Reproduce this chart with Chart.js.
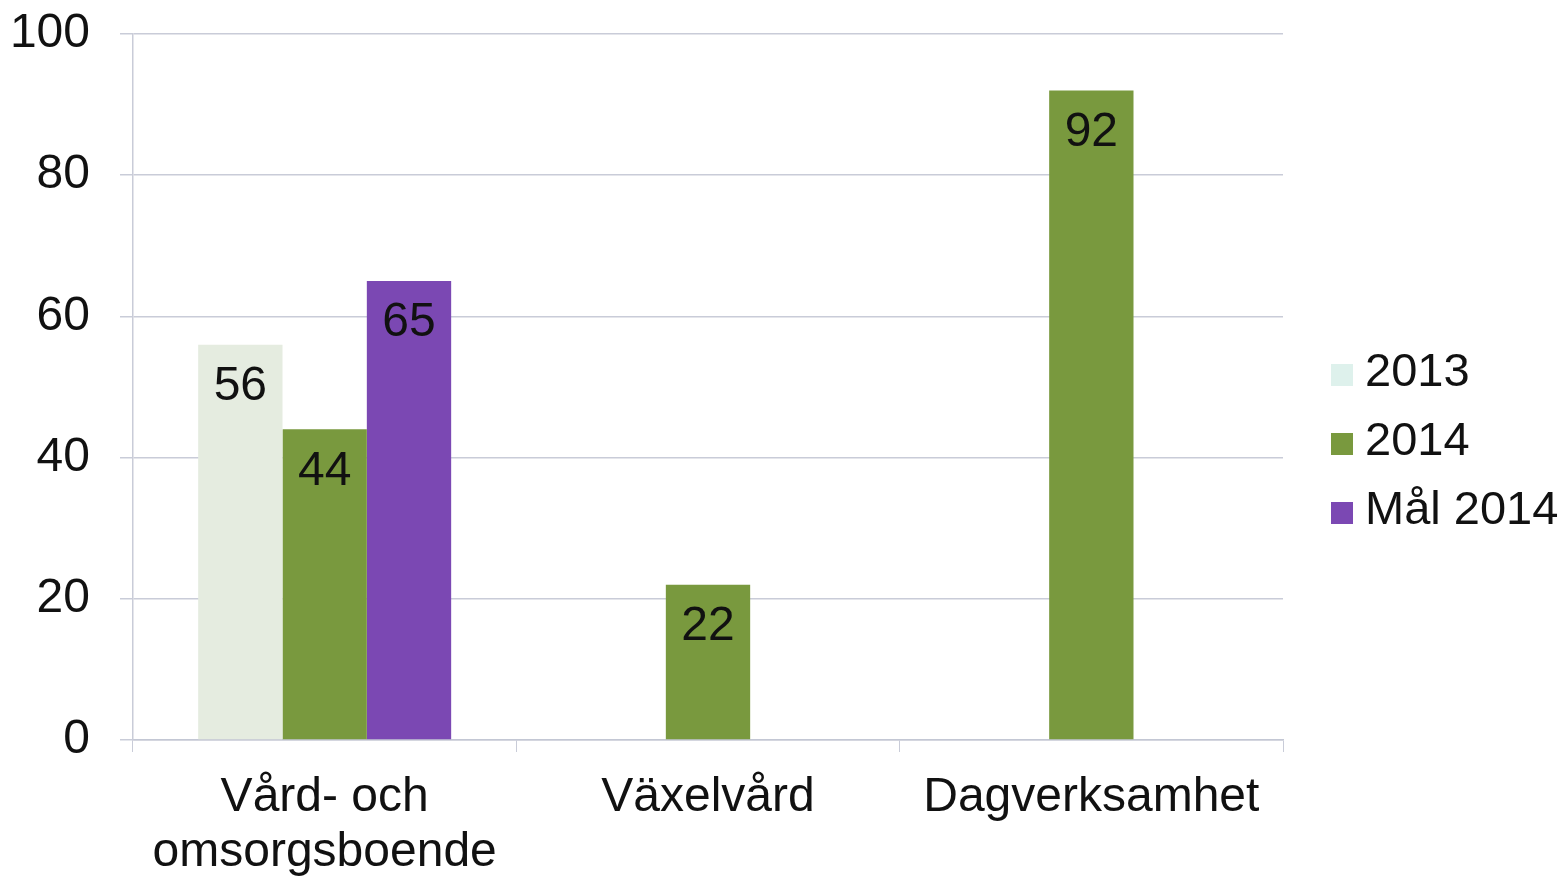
<!DOCTYPE html>
<html lang="sv">
<head>
<meta charset="utf-8">
<title>Andel per verksamhet</title>
<script src="https://cdn.jsdelivr.net/npm/chart.js@4.4.1/dist/chart.umd.min.js"></script>
<style>
  html, body { margin: 0; padding: 0; background: #ffffff; }
  #wrap { width: 1562px; height: 877px; }
</style>
</head>
<body>
<div id="wrap"><canvas id="chart" width="1562" height="877"></canvas></div>
<script>
// Categories (multi-line label for the first one)
const categories = [["Vård- och", "omsorgsboende"], "Växelvård", "Dagverksamhet"];

// Series values; null where a series has no bar
const values2013 = [56, null, null];
const values2014 = [44, 22, 92];
const valuesMal2014 = [65, null, null];

// Y axis tick labels
const yTicks = [0, 20, 40, 60, 80, 100];

const seriesLabels = ["2013", "2014", "Mål 2014"];
const seriesColors = ["#e5ece0", "#79993e", "#7b48b3"];
const legendSwatchColors = ["#def1ec", "#79993e", "#7b48b3"];

const FONT = '"Liberation Sans", Arial, sans-serif';
const FONT_SIZE = 48;

// Value labels drawn inside the top of each bar
const barValueLabels = {
  id: 'barValueLabels',
  afterDatasetsDraw(chart) {
    const ctx = chart.ctx;
    ctx.save();
    ctx.font = FONT_SIZE + 'px ' + FONT;
    ctx.fillStyle = '#111111';
    ctx.textAlign = 'center';
    ctx.textBaseline = 'middle';
    chart.data.datasets.forEach((ds, di) => {
      const meta = chart.getDatasetMeta(di);
      meta.data.forEach((el, i) => {
        const v = ds.data[i];
        if (v === null || v === undefined) return;
        ctx.fillText(String(v), el.x, el.y + 42);
      });
    });
    ctx.restore();
  }
};

// Legend drawn at the right, one row per series
const sideLegend = {
  id: 'sideLegend',
  afterDraw(chart) {
    const ctx = chart.ctx;
    ctx.save();
    ctx.font = (FONT_SIZE - 1) + 'px ' + FONT;
    ctx.textBaseline = 'middle';
    ctx.textAlign = 'left';
    const x0 = 1331, size = 22, rowGap = 69, yStart = 373;
    chart.data.datasets.forEach((ds, i) => {
      const y = yStart + i * rowGap;
      ctx.fillStyle = legendSwatchColors[i];
      ctx.fillRect(x0, y - size / 2 + 2, size, size);
      ctx.fillStyle = '#111111';
      ctx.fillText(ds.label, x0 + 34, y);
    });
    ctx.restore();
  }
};

const whiteBackground = {
  id: 'whiteBackground',
  beforeDraw(chart) {
    const ctx = chart.ctx;
    ctx.save();
    ctx.fillStyle = '#ffffff';
    ctx.fillRect(0, 0, chart.width, chart.height);
    ctx.restore();
  }
};

const datasets = [values2013, values2014, valuesMal2014].map((data, i) => ({
  label: seriesLabels[i],
  data: data,
  backgroundColor: seriesColors[i],
  borderWidth: 0,
  categoryPercentage: 0.66,
  barPercentage: 1.0,
  skipNull: false
}));

new Chart(document.getElementById('chart'), {
  type: 'bar',
  data: { labels: categories, datasets: datasets },
  plugins: [whiteBackground, barValueLabels, sideLegend],
  options: {
    responsive: false,
    animation: false,
    devicePixelRatio: 1,
    layout: { padding: { top: 0, right: 279, bottom: 0, left: 0 } },
    plugins: {
      legend: { display: false },
      tooltip: { enabled: false }
    },
    scales: {
      x: {
        afterFit(scale) { scale.height = 137; },
        grid: {
          display: true,
          drawOnChartArea: false,
          drawTicks: true,
          tickLength: 12,
          color: '#c9ccd8',
          offset: true
        },
        border: { display: true, color: '#c3c7d4', width: 1.5 },
        ticks: {
          padding: 18,
          color: '#111111',
          font: { family: FONT, size: FONT_SIZE, lineHeight: 1.15 },
          maxRotation: 0,
          autoSkip: false
        }
      },
      y: {
        min: 0,
        max: 100,
        afterFit(scale) { scale.width = 133; scale.paddingTop = 34; },
        afterBuildTicks(scale) { scale.ticks = yTicks.map(v => ({ value: v })); },
        grid: {
          color: '#c9ccd8',
          lineWidth: 1.5,
          drawTicks: true,
          tickLength: 13
        },
        border: { display: true, color: '#c9ccd8', width: 1.5 },
        ticks: {
          padding: 30,
          color: '#111111',
          font: { family: FONT, size: FONT_SIZE }
        }
      }
    }
  }
});
</script>
</body>
</html>
